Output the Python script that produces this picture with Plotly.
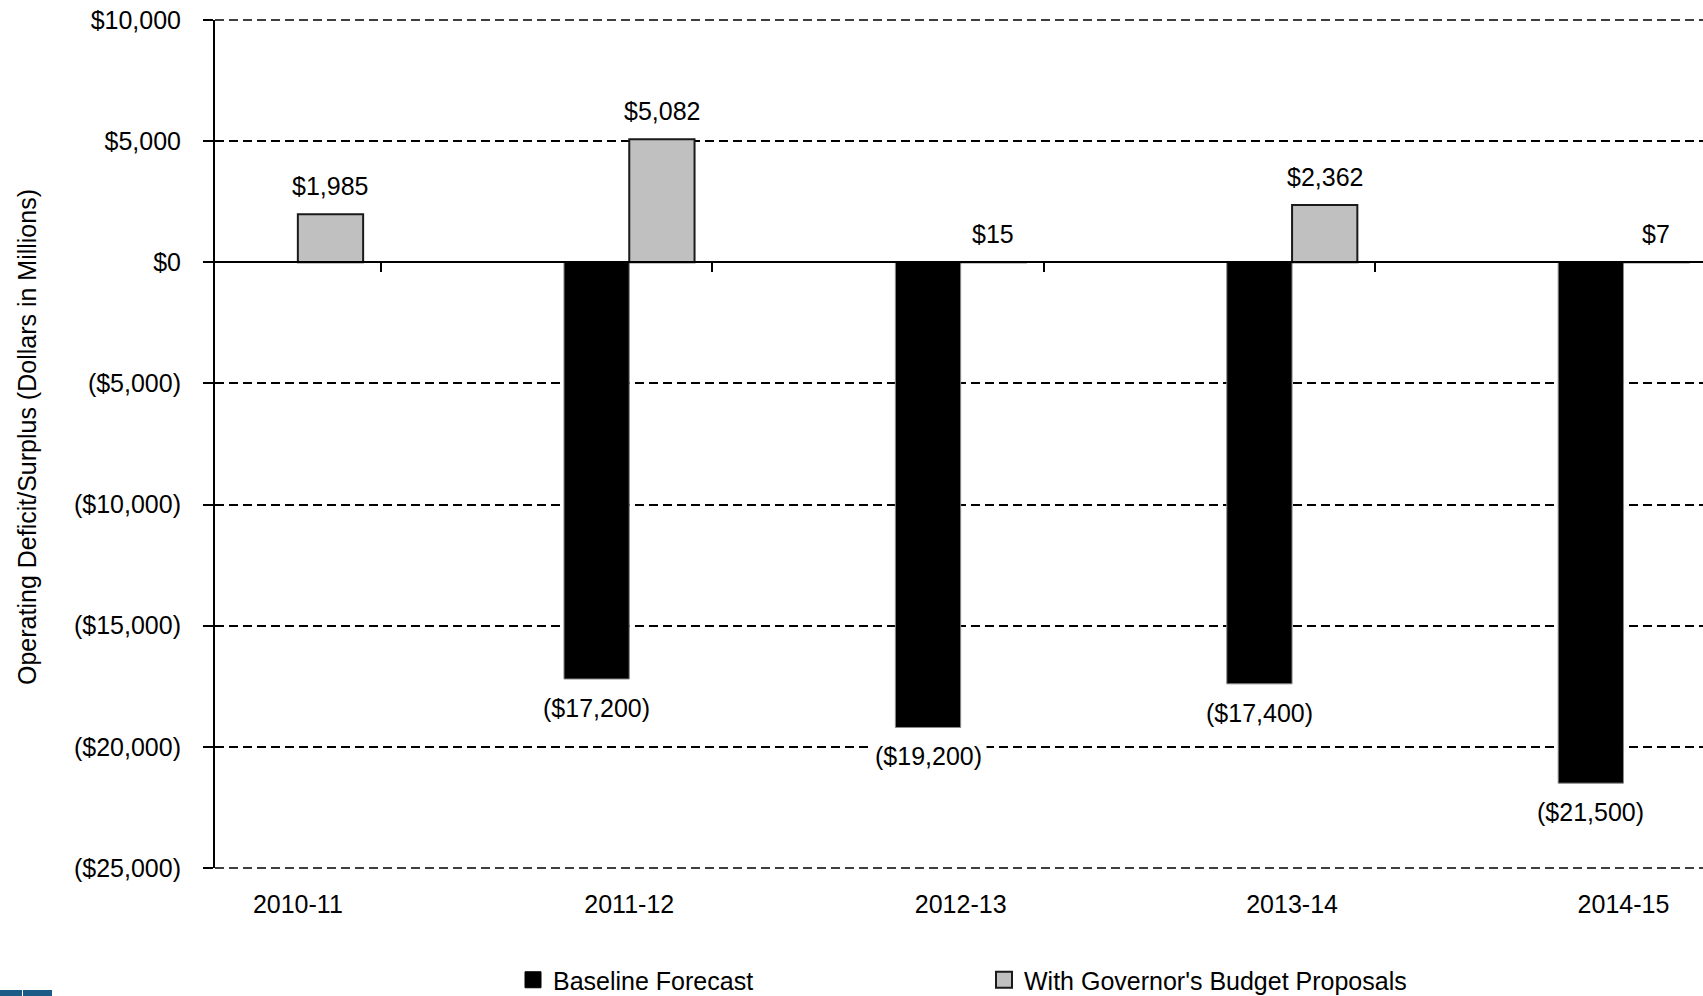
import plotly.graph_objects as go

# Fiscal years and operating balances (millions of dollars)
years = ["2010-11", "2011-12", "2012-13", "2013-14", "2014-15"]
baseline = [None, -17200, -19200, -17400, -21500]
proposals = [1985, 5082, 15, 2362, 7]

y_ticks = [10000, 5000, 0, -5000, -10000, -15000, -20000, -25000]
y_range = [-25000, 10000]
x_range = [-0.25, 4.24]
divider_ticks = [0.25, 1.25, 2.25, 3.25]

FONT = "Liberation Sans, Arial, sans-serif"
FS = 25

W, H = 1703, 996
M_L, M_R, M_T, M_B = 215, 0, 20, 128
BARGAP = 0.606

BLACK = "#000000"
GREY = "#c0c0c0"
GRID_W = 1.6
GRID_DASH = "9px,5px"
LABEL_PAD = 4


def money(v):
    s = "${:,.0f}".format(abs(v))
    return "({})".format(s) if v < 0 else s


fig = go.Figure()
fig.add_trace(go.Bar(
    x=years, y=baseline, name="Baseline Forecast", showlegend=False,
    marker=dict(color=BLACK, line=dict(color="#8a8a8a", width=1)),
    hoverinfo="skip",
))
fig.add_trace(go.Bar(
    x=years, y=proposals, name="With Governor's Budget Proposals", showlegend=False,
    marker=dict(color=GREY, line=dict(color="#1a1a1a", width=2)),
    hoverinfo="skip",
))
# legend entries with larger square swatches
fig.add_trace(go.Scatter(
    x=[None], y=[None], mode="markers", name="Baseline Forecast",
    marker=dict(symbol="square", size=16, color=BLACK, line=dict(color=BLACK, width=1)),
    hoverinfo="skip",
))
fig.add_trace(go.Scatter(
    x=[None], y=[None], mode="markers", name="With Governor's Budget Proposals",
    marker=dict(symbol="square", size=16, color=GREY, line=dict(color="#1a1a1a", width=2)),
    hoverinfo="skip",
))
# carrier for the divider ticks along the zero line
fig.add_trace(go.Scatter(x=[], y=[], xaxis="x2", showlegend=False, hoverinfo="skip"))

# value labels, offset to the centre of each bar in its group
plot_w = W - M_L - M_R
cat_px = plot_w / (x_range[1] - x_range[0])
bar_px = cat_px * (1 - BARGAP) / 2
label_style = dict(xref="x", yref="y", showarrow=False, bgcolor="white",
                   borderpad=LABEL_PAD, font=dict(family=FONT, size=FS, color="#000"))
ann = []
for i, yr in enumerate(years):
    b = baseline[i]
    if b is not None:
        ann.append(dict(x=yr, y=b, text=money(b), xshift=-bar_px / 2,
                        yshift=-13 + (LABEL_PAD - 1), yanchor="top", **label_style))
    p = proposals[i]
    ann.append(dict(x=yr, y=p, text=money(p), xshift=bar_px / 2,
                    yshift=12 - (LABEL_PAD - 1), yanchor="bottom", **label_style))

ann.append(dict(x=0, y=0.5, xref="paper", yref="paper", xanchor="center", yanchor="middle",
                xshift=27 - M_L, yshift=7, textangle=-90, showarrow=False,
                text="Operating Deficit/Surplus (Dollars in Millions)",
                font=dict(family=FONT, size=FS, color="#000")))

zero_pos = (0 - y_range[0]) / (y_range[1] - y_range[0])


def px_to_paper_x(px):
    return (px - M_L) / plot_w


def px_to_paper_y(py):
    return (H - M_B - py) / (H - M_T - M_B)


shapes = []
# dashed grid lines along the top and bottom edges of the value range
for edge in (0, 1):
    shapes.append(dict(type="line", xref="paper", yref="paper", x0=0, x1=1, y0=edge, y1=edge,
                       line=dict(color="#000", width=GRID_W, dash=GRID_DASH), layer="below"))
# small logo strip in the lower-left corner
for x0, x1 in [(0, 22), (23, 52)]:
    shapes.append(dict(type="rect", xref="paper", yref="paper",
                       x0=px_to_paper_x(x0), x1=px_to_paper_x(x1),
                       y0=px_to_paper_y(996), y1=px_to_paper_y(990),
                       fillcolor="#1d5b87", line=dict(width=0), layer="above"))

fig.update_layout(
    width=W, height=H,
    margin=dict(l=M_L, r=M_R, t=M_T, b=M_B, autoexpand=False),
    paper_bgcolor="white", plot_bgcolor="white",
    barmode="group", bargap=BARGAP, bargroupgap=0,
    font=dict(family=FONT, size=FS, color="#000"),
    showlegend=True,
    legend=dict(orientation="h", x=px_to_paper_x(513), xanchor="left",
                y=px_to_paper_y(980), yanchor="middle",
                font=dict(family=FONT, size=FS, color="#000"),
                entrywidth=426, entrywidthmode="pixels",
                bgcolor="rgba(0,0,0,0)", itemclick=False, itemdoubleclick=False),
    xaxis=dict(
        type="category", range=x_range, showline=False, showgrid=False, zeroline=False,
        ticks="", ticklabelstandoff=19, tickfont=dict(family=FONT, size=FS),
        fixedrange=True,
    ),
    xaxis2=dict(
        overlaying="x", anchor="free", position=zero_pos, range=x_range,
        tickvals=divider_ticks, showticklabels=False, ticks="outside", ticklen=9,
        tickwidth=1.5, tickcolor="#000", showline=True, linecolor="#000", linewidth=2,
        showgrid=False, zeroline=False, fixedrange=True,
    ),
    yaxis=dict(
        range=y_range, tickvals=y_ticks, ticktext=[money(v) for v in y_ticks],
        showline=True, linecolor="#000", linewidth=2,
        ticks="outside", ticklen=10, tickwidth=1.5, tickcolor="#000",
        ticklabelstandoff=17,
        showgrid=True, gridcolor="#000", gridwidth=GRID_W, griddash=GRID_DASH,
        zeroline=False, tickfont=dict(family=FONT, size=FS), fixedrange=True,
    ),
    annotations=ann,
    shapes=shapes,
)

fig.write_html("out.html", config={"displayModeBar": False})
